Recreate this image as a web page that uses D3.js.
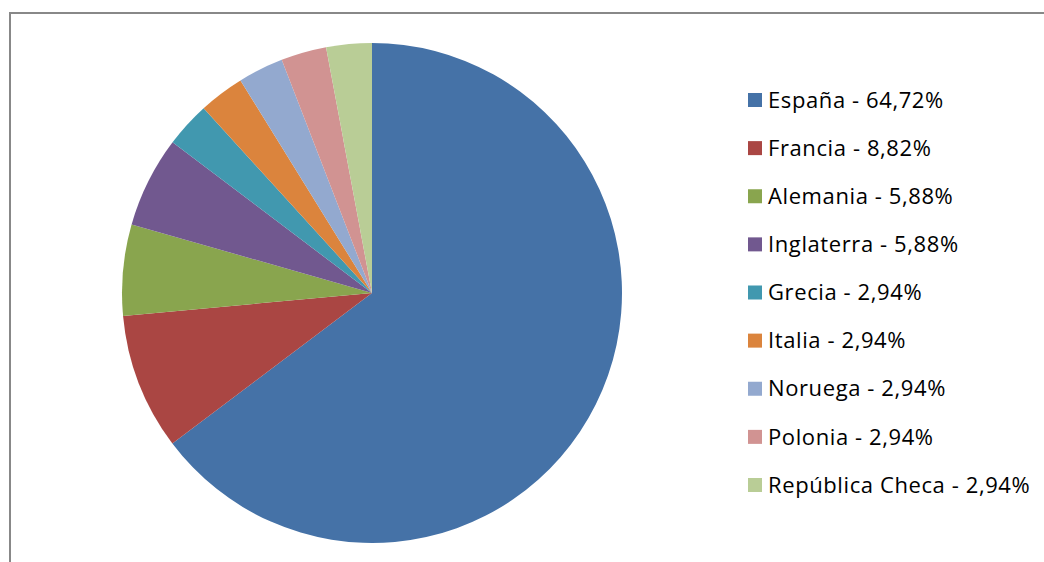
<!DOCTYPE html>
<html>
<head>
<meta charset="utf-8">
<script src="https://cdn.jsdelivr.net/npm/d3@7"></script>
<style>
  html, body { margin: 0; padding: 0; background: #fff; }
  svg { display: block; }
  .legend text { font-family: "Open Sans", "Noto Sans", sans-serif; font-size: 22px; letter-spacing: 0.6px; fill: #000; }
</style>
</head>
<body>
<svg id="chart" width="1044" height="562"></svg>
<script>
// Share of participants by country (%)
const countries = ["España", "Francia", "Alemania", "Inglaterra", "Grecia", "Italia", "Noruega", "Polonia", "República Checa"];
const shares = [64.72, 8.82, 5.88, 5.88, 2.94, 2.94, 2.94, 2.94, 2.94];
const colors = ["#4572A7", "#AA4643", "#89A54E", "#71588F", "#4198AF", "#DB843D", "#93A9CF", "#D19392", "#B9CD96"];

const svg = d3.select("#chart");
const W = 1044, H = 562;

// chart area frame (only top and left edges fall inside the view)
svg.append("rect")
  .attr("x", 10).attr("y", 13)
  .attr("width", W + 20).attr("height", H + 20)
  .attr("fill", "none")
  .attr("stroke", "#888")
  .attr("stroke-width", 2);

const data = countries.map((c, i) => ({ name: c, value: shares[i], color: colors[i] }));

const cx = 372, cy = 293, r = 250;
const pie = d3.pie().value(d => d.value).sort(null);
const arc = d3.arc().innerRadius(0).outerRadius(r);

svg.append("g")
  .attr("transform", `translate(${cx},${cy})`)
  .selectAll("path")
  .data(pie(data))
  .join("path")
  .attr("d", arc)
  .attr("fill", d => d.data.color);

// legend
const rowY = d3.scaleLinear().domain([0, countries.length - 1]).range([100, 485]);
const fmt = v => v.toFixed(2).replace(".", ",") + "%";

const lg = svg.append("g").attr("class", "legend");
const rows = lg.selectAll("g").data(data).join("g")
  .attr("transform", (d, i) => `translate(748,${rowY(i)})`);
rows.append("rect")
  .attr("x", 0).attr("y", -7)
  .attr("width", 14).attr("height", 14)
  .attr("fill", d => d.color);
rows.append("text")
  .attr("x", 20).attr("y", 0)
  .attr("dy", "0.35em")
  .text(d => `${d.name} - ${fmt(d.value)}`);
</script>
</body>
</html>
